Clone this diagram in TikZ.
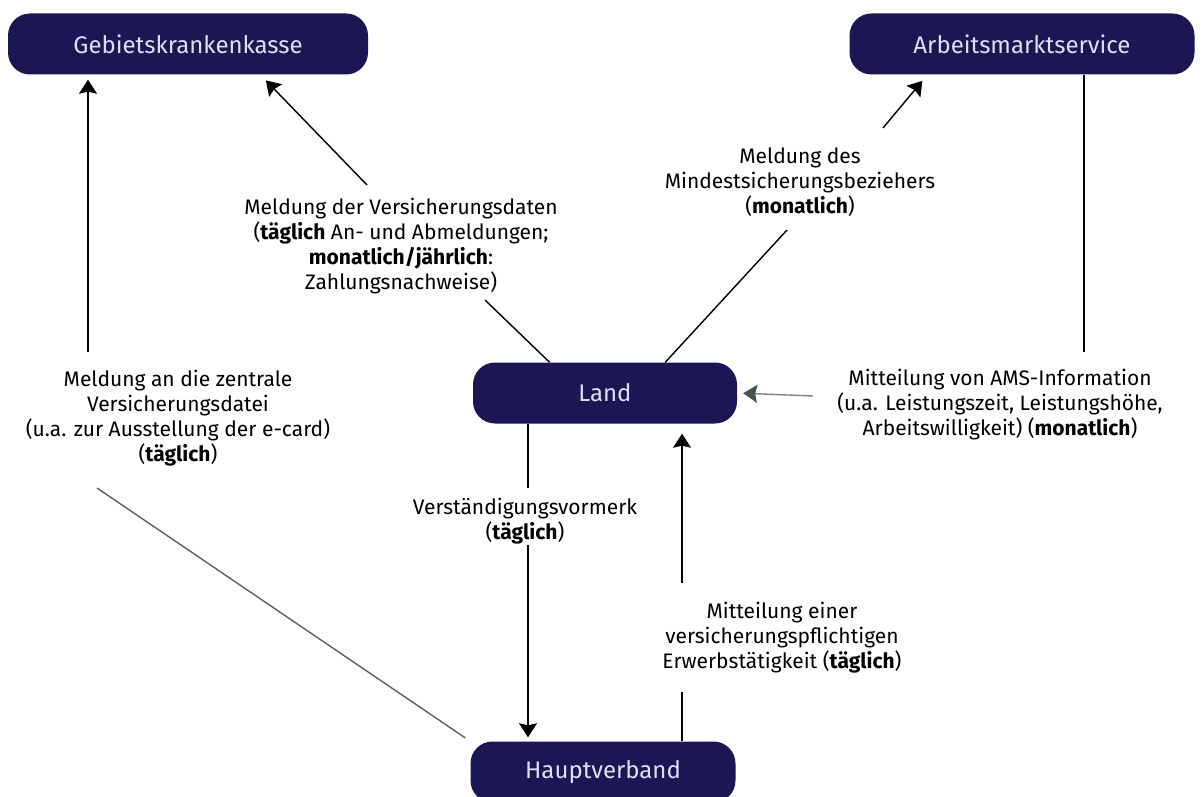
\documentclass[tikz,border=0pt]{standalone}
\usepackage{fontspec}
\setmainfont{Fira Sans}
\usepackage{tikz}
\usetikzlibrary{arrows.meta, positioning}

\definecolor{navy}{RGB}{27,22,84}
\definecolor{boxtext}{RGB}{222,224,242}
\definecolor{slate}{RGB}{70,84,80}

\begin{document}
\begin{tikzpicture}[x=1pt, y=-1pt,
        box/.style={rectangle, rounded corners=22pt, fill=navy, text=boxtext,
            minimum height=61pt, font=\fontsize{24}{28}\selectfont},
        lbl/.style={align=center, font=\fontsize{21}{25}\selectfont},
        conn/.style={line width=1.4pt},
        tip/.style={conn, -{Stealth[length=14pt, width=18pt, inset=2pt]}}]
        \useasboundingbox (0,0) rectangle (1204,797);

        \node (gkk) [box, minimum width=360pt] at (188,44) {Gebietskrankenkasse};
        \node (ams) [box, minimum width=345pt] at (1022,44) {Arbeitsmarktservice};
        \node (land) [box, minimum width=264pt] at (605,393) {Land};
        \node (hv) [box, minimum width=265pt] at (603,772) {Hauptverband};

        \node (lblZentral) [lbl] at (178,418) {Meldung an die zentrale\\Versicherungsdatei\\(u.a. zur Ausstellung der e-card)\\(\textbf{täglich})};
        \node (lblVersDaten) [lbl] at (401,246) {Meldung der Versicherungsdaten\\(\textbf{täglich} An- und Abmeldungen;\\\textbf{monatlich/jährlich}:\\Zahlungsnachweise)};
        \node (lblMindest) [lbl] at (800,182) {Meldung des\\Mindestsicherungsbeziehers\\(\textbf{monatlich})};
        \node (lblAms) [lbl] at (1000,405) {Mitteilung von AMS-Information\\(u.a. Leistungszeit, Leistungshöhe,\\Arbeitswilligkeit) (\textbf{monatlich})};
        \node (lblVormerk) [lbl] at (525,521) {Verständigungsvormerk\\(\textbf{täglich})};
        \node (lblErwerb) [lbl] at (782,638) {Mitteilung einer\\versicherungspflichtigen\\Erwerbstätigkeit (\textbf{täglich})};

        % free ends of the connectors next to the labels
        \coordinate (gA) at (88,352);
        \coordinate (gB) at (97,488);
        \coordinate (vA) at (485,300);
        \coordinate (vB) at (367,185);
        \coordinate (mA) at (787,230);
        \coordinate (mB) at (883,128);
        \coordinate (aA) at (1084,352);
        \coordinate (aB) at (813,396);
        \coordinate (sA) at (528,488);
        \coordinate (sB) at (528,545);
        \coordinate (eA) at (682,583);
        \coordinate (eB) at (682,692);

        \path [conn]
        (hv.north west) edge [shorten <=6pt, draw=gray!75!black] (gB)
        (land.151) edge (vA)
        (land.27) edge (mA)
        (ams.south -| aA) edge (aA)
        (land.south -| sA) edge (sA)
        (hv.north -| eB) edge (eB);

        \path [tip]
        (gA) edge [shorten >=5pt] (gA |- gkk.south)
        (vB) edge [shorten >=8pt] (gkk.-23)
        (mB) edge [shorten >=8pt] (ams.-162)
        (aB) edge [draw=gray, -{Stealth[length=14pt, width=18pt, inset=2pt, color=slate]}, shorten >=6pt] (land.east)
        (sB) edge [shorten >=4pt] (sB |- hv.north)
        (eA) edge [shorten >=10pt] (eA |- land.south);
    \end{tikzpicture}
\end{document}
